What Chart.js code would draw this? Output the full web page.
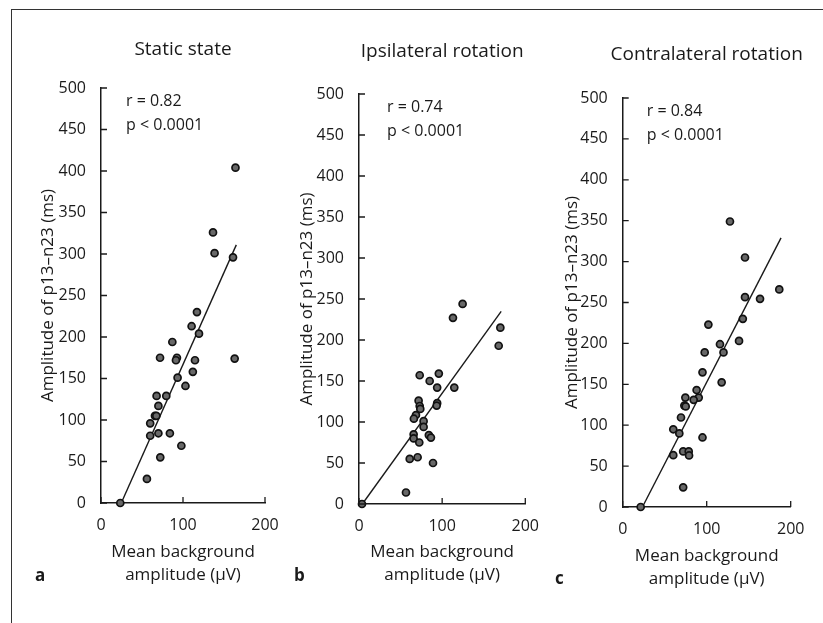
<!DOCTYPE html>
<html>
<head>
<meta charset="utf-8">
<script src="https://cdn.jsdelivr.net/npm/chart.js@4.4.1/dist/chart.umd.min.js"></script>
<style>
  body { margin: 0; background: #fff; }
  #wrap { position: relative; width: 823px; height: 623px; overflow: hidden; }
  #wrap canvas { position: absolute; left: 0; top: 0; }
  #frame { position: absolute; left: 11px; top: 9px; width: 830px; height: 640px;
           border-left: 1.5px solid #333; border-top: 1.5px solid #333; }
</style>
</head>
<body>
<div id="wrap">
  <div id="frame"></div>
  <canvas id="chartA" width="823" height="623"></canvas>
  <canvas id="chartB" width="823" height="623"></canvas>
  <canvas id="chartC" width="823" height="623"></canvas>
</div>
<script>
// tick values shared by the three panels
const xTickValues = [0, 100, 200];
const yTickValues = [0, 50, 100, 150, 200, 250, 300, 350, 400, 450, 500];

// a - static state
const staticX = [164, 136.6, 138.5, 161, 117, 110.5, 119.5, 87, 72, 92.6, 91.4, 114.6, 163, 112, 93.4, 103,
  67.8, 79.6, 70, 65.8, 67.5, 60, 60, 70, 84, 98, 72.3, 56, 23.5];
const staticY = [404, 326, 301, 296, 230, 213, 204, 194, 175, 175, 172, 172, 174, 158, 151, 141,
  129, 129, 117, 105, 105, 96, 81, 84, 84, 69, 55, 29, 0];
const staticFitX = [24.7, 165];
const staticFitY = [0, 311];

// b - ipsilateral rotation
const ipsiX = [124.6, 113, 170, 168, 73, 96, 85, 94, 114.6, 71.7, 73, 73.7, 94, 93.4, 68.5, 66, 77.7, 77.7,
  65.7, 65.7, 84, 86.5, 72.5, 61, 70.5, 89, 56.5, 3.6];
const ipsiY = [244, 227, 215, 193, 157, 159, 150, 142, 142, 126, 119.5, 116, 123, 120, 108.5, 104, 101, 94,
  85, 80, 84, 81, 75, 55, 57, 50, 14, 0];
const ipsiFitX = [4, 171];
const ipsiFitY = [0, 235];

// c - contralateral rotation
const contraX = [127.7, 145.6, 186.4, 145.6, 163.5, 143, 102, 138.5, 115.8, 97.6, 120, 95, 117.8, 88, 90.5,
  84.5, 74.6, 73.4, 75, 69.4, 60.2, 67.4, 95, 60.2, 72, 78.6, 79, 72, 21.4];
const contraY = [349, 305, 266, 256.5, 254.5, 230, 223, 203, 199, 189, 189, 164.6, 152.4, 143, 133.8,
  131, 133.8, 124, 123, 109.4, 95, 90, 85, 63.4, 68, 68, 63, 24, 0];
const contraFitX = [23.5, 188.5];
const contraFitY = [0, 329];

const FONT = "'Open Sans', 'Noto Sans', sans-serif";
const INK = '#1a1a1a';

const toPoints = (xs, ys) => xs.map((x, i) => ({ x: x, y: ys[i] }));

// short ticks pointing into the plot, as in the printed figure
const inwardTicks = {
  id: 'inwardTicks',
  afterDatasetsDraw(chart) {
    const { ctx, chartArea, scales } = chart;
    ctx.save();
    ctx.strokeStyle = INK;
    ctx.lineWidth = 1.3;
    ctx.beginPath();
    scales.x.ticks.forEach(t => {
      const px = scales.x.getPixelForValue(t.value);
      ctx.moveTo(px, chartArea.bottom);
      ctx.lineTo(px, chartArea.bottom - 6);
    });
    scales.y.ticks.forEach(t => {
      const py = scales.y.getPixelForValue(t.value);
      ctx.moveTo(chartArea.left, py);
      ctx.lineTo(chartArea.left + 6, py);
    });
    ctx.stroke();
    ctx.restore();
  }
};

// panel title, r / p note and panel letter
const panelText = {
  id: 'panelText',
  afterDraw(chart, args, opts) {
    const { ctx, chartArea } = chart;
    ctx.save();
    ctx.fillStyle = INK;
    ctx.textBaseline = 'middle';
    ctx.textAlign = 'center';
    ctx.font = `19px ${FONT}`;
    ctx.fillText(opts.title, (chartArea.left + chartArea.right) / 2, opts.titleY);
    ctx.textAlign = 'left';
    ctx.textBaseline = 'alphabetic';
    ctx.font = `16px ${FONT}`;
    ctx.fillText(opts.r, chartArea.left + opts.noteDx, chartArea.top + 18);
    ctx.fillText('p < 0.0001', chartArea.left + opts.noteDx, chartArea.top + 42);
    ctx.font = `bold 17px ${FONT}`;
    ctx.fillText(opts.letter, opts.letterX, opts.letterY);
    ctx.restore();
  }
};

function makePanel(id, xs, ys, fitX, fitY, layout) {
  const ctx = document.getElementById(id).getContext('2d');
  return new Chart(ctx, {
    type: 'scatter',
    data: {
      datasets: [{
        data: toPoints(xs, ys),
        pointRadius: 3.5,
        pointBackgroundColor: '#686868',
        pointBorderColor: '#111',
        pointBorderWidth: 1.7,
        clip: false
      }, {
        data: toPoints(fitX, fitY),
        showLine: true,
        pointRadius: 0,
        borderColor: INK,
        borderWidth: 1.4,
        clip: false
      }]
    },
    options: {
      responsive: false,
      animation: false,
      devicePixelRatio: 1,
      events: [],
      layout: { padding: layout.padding },
      plugins: {
        legend: { display: false },
        tooltip: { enabled: false },
        panelText: layout.text
      },
      scales: {
        x: {
          type: 'linear',
          min: 0, max: 200,
          afterBuildTicks: s => { s.ticks = xTickValues.map(v => ({ value: v })); },
          afterFit: s => { s.height = layout.xHeight; },
          grid: { display: false },
          border: { display: true, color: INK, width: 1.5 },
          ticks: { color: INK, padding: 5, font: { family: FONT, size: 16 } },
          title: {
            display: true,
            text: ['Mean background', 'amplitude (µV)'],
            color: INK,
            padding: 0,
            font: { family: FONT, size: 17, lineHeight: '23px' }
          }
        },
        y: {
          type: 'linear',
          min: 0, max: 500,
          afterBuildTicks: s => { s.ticks = yTickValues.map(v => ({ value: v })); },
          afterFit: s => { s.width = 89; },
          grid: { display: false },
          border: { display: true, color: INK, width: 1.5 },
          ticks: { color: INK, padding: 7, font: { family: FONT, size: 16 } },
          title: {
            display: true,
            text: 'Amplitude of p13–n23 (ms)',
            color: INK,
            padding: { top: layout.yTitlePad, bottom: 0 },
            font: { family: FONT, size: 17, lineHeight: '23px' }
          }
        }
      }
    },
    plugins: [inwardTicks, panelText]
  });
}

makePanel('chartA', staticX, staticY, staticFitX, staticFitY, {
  padding: { left: 12, right: 558, top: 88, bottom: 36.5 },
  xHeight: 83.5,
  yTitlePad: 24.5,
  text: { title: 'Static state', titleY: 50, r: 'r = 0.82', noteDx: 25, letter: 'a', letterX: 35, letterY: 581 }
});

makePanel('chartB', ipsiX, ipsiY, ipsiFitX, ipsiFitY, {
  padding: { left: 270, right: 297.7, top: 94, bottom: 36.5 },
  xHeight: 82.5,
  yTitlePad: 25.5,
  text: { title: 'Ipsilateral rotation', titleY: 52, r: 'r = 0.74', noteDx: 28, letter: 'b', letterX: 294, letterY: 581 }
});

makePanel('chartC', contraX, contraY, contraFitX, contraFitY, {
  padding: { left: 533.7, right: 32.3, top: 98, bottom: 32.5 },
  xHeight: 83.5,
  yTitlePad: 26.5,
  text: { title: 'Contralateral rotation', titleY: 55, r: 'r = 0.84', noteDx: 24, letter: 'c', letterX: 555, letterY: 584 }
});
</script>
</body>
</html>
